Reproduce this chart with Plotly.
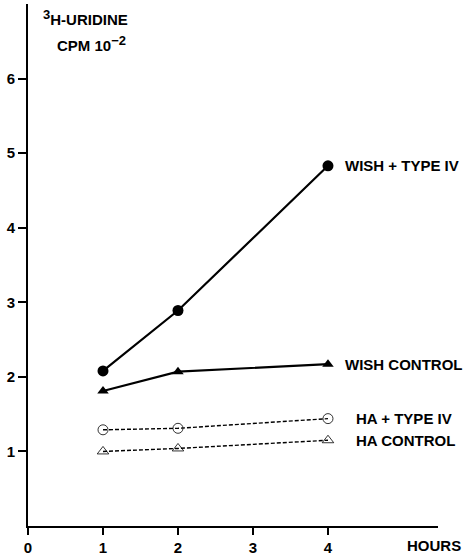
import plotly.graph_objects as go

# Time points (hours) and incorporation values (CPM x 10^-2)
hours = [1, 2, 4]
wish_type_iv = [2.08, 2.89, 4.83]
wish_control = [1.81, 2.07, 2.17]
ha_type_iv = [1.29, 1.31, 1.44]
ha_control = [1.00, 1.04, 1.15]

series_names = ["WISH + TYPE IV", "WISH CONTROL", "HA + TYPE IV", "HA CONTROL"]
x_ticks = [0, 1, 2, 3, 4]
y_ticks = [1, 2, 3, 4, 5, 6]

FONT = "Liberation Sans, Arial, sans-serif"
TXT = dict(family=FONT, size=15, color="black", weight="bold")

fig = go.Figure()

styles = [
    (wish_type_iv, dict(color="black", width=2.2), dict(symbol="circle", size=11, color="black")),
    (wish_control, dict(color="black", width=2.2), dict(symbol="triangle-up", size=10, color="black")),
    (ha_type_iv, dict(color="black", width=1.4, dash="4px,2px"),
     dict(symbol="circle-open", size=10, color="black", line=dict(width=0.8))),
    (ha_control, dict(color="black", width=1.4, dash="4px,2px"),
     dict(symbol="triangle-up-open", size=10, color="black", line=dict(width=0.8))),
]

for name, (vals, line, marker) in zip(series_names, styles):
    fig.add_trace(go.Scatter(x=hours, y=vals, mode="lines+markers", name=name,
                             line=line, marker=marker, showlegend=False,
                             cliponaxis=False))

# Series labels at the right end of each line
label_y = [wish_type_iv[-1], wish_control[-1], ha_type_iv[-1], ha_control[-1]]
label_shift = [15, 15, 26, 26]
for name, yv, sh in zip(series_names, label_y, label_shift):
    fig.add_annotation(x=hours[-1], y=yv, text=name, xref="x", yref="y",
                       xanchor="left", yanchor="middle", xshift=sh, showarrow=False,
                       font=TXT)

# Axis titles
fig.add_annotation(x=0, y=1.0, xref="paper", yref="paper",
                   text='<sup><span style="font-size:13px">3</span></sup>H-URIDINE',
                   xanchor="left", yanchor="top", xshift=13, yshift=-1,
                   showarrow=False, font=TXT)
fig.add_annotation(x=0, y=1.0, xref="paper", yref="paper",
                   text='CPM 10<sup><span style="font-size:13px">\u22122</span></sup>',
                   xanchor="left", yanchor="top", xshift=27, yshift=-27,
                   showarrow=False, font=TXT)
fig.add_annotation(x=1.0, y=0, xref="paper", yref="paper", text="HOURS",
                   xanchor="right", yanchor="top", xshift=25, yshift=-9,
                   showarrow=False, font=TXT)

fig.update_layout(
    width=472, height=560,
    margin=dict(l=28, r=34, t=4, b=31),
    paper_bgcolor="white", plot_bgcolor="white",
    font=TXT,
    xaxis=dict(range=[0, 5.467], tickvals=x_ticks, ticks="outside", ticklen=7,
               tickwidth=1.5, tickcolor="black", showline=True, linecolor="black",
               linewidth=2, showgrid=False, zeroline=False, fixedrange=True,
               tickfont=TXT),
    yaxis=dict(range=[0, 7], tickvals=y_ticks, ticks="outside", ticklen=8,
               tickwidth=1.5, tickcolor="black", showline=True, linecolor="black",
               linewidth=2, showgrid=False, zeroline=False, fixedrange=True,
               tickfont=TXT),
)

fig.write_html("out.html")
